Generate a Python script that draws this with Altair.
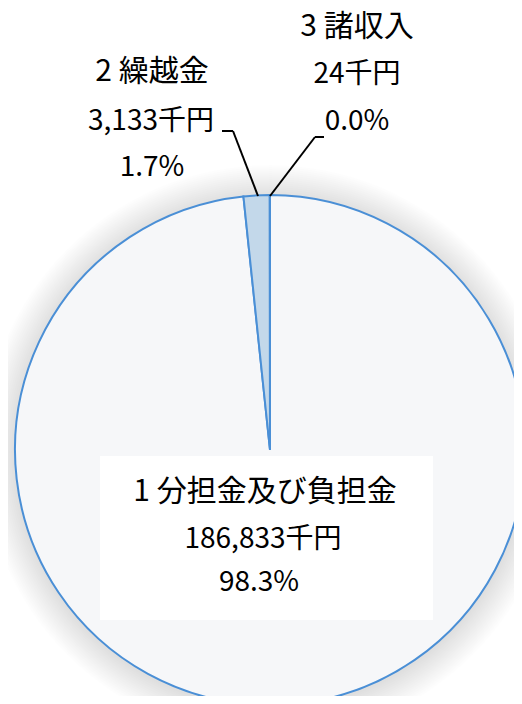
import altair as alt
import pandas as pd

# ---- data ----
categories = ["1 分担金及び負担金", "2 繰越金", "3 諸収入"]
amounts = [186833, 3133, 24]          # 千円
percents = [98.3, 1.7, 0.0]          # displayed %
order = [1, 2, 3]

FONT = "Noto Sans CJK JP"
W, H = 506, 688
CX, CY, R = 262, 442, 255
TWO_PI = 6.2832

df = pd.DataFrame({"cat": categories, "amount": amounts, "pct": percents, "ord": order})

one = pd.DataFrame({"v": [1]})

# soft outer shadow: stacked translucent discs (full circles, fixed angles)
shadow_layers = []
for rr in range(287, 255, -2):
    shadow_layers.append(
        alt.Chart(one).mark_arc(
            outerRadius=rr, theta=0, theta2=TWO_PI, color="#000000", opacity=0.009
        ).encode(x=alt.value(CX), y=alt.value(CY + 2))
    )

pie = alt.Chart(df).mark_arc(
    outerRadius=R, stroke="#4A8FD6", strokeWidth=2
).encode(
    theta=alt.Theta("amount:Q", stack=True),
    order=alt.Order("ord:Q"),
    color=alt.Color(
        "cat:N",
        scale=alt.Scale(domain=categories, range=["#F6F7F9", "#C3D8EA", "#C3D8EA"]),
        legend=None,
    ),
    x=alt.value(CX),
    y=alt.value(CY),
)

# white label box for the big slice
box = alt.Chart(one).mark_rect(color="white").encode(
    x=alt.value(92), x2=alt.value(425), y=alt.value(448), y2=alt.value(612)
)

# leader lines
def rule(x1, y1, x2, y2):
    return alt.Chart(one).mark_rule(color="black", strokeWidth=2).encode(
        x=alt.value(x1), y=alt.value(y1), x2=alt.value(x2), y2=alt.value(y2)
    )

lines = [
    rule(214, 123, 225, 123),
    rule(225, 123, 250, 188),
    rule(262, 188, 307, 129),
    rule(307, 129, 316, 129),
]

def lbl(i):
    return [categories[i], f"{amounts[i]:,}千円", f"{percents[i]:.1f}%"]

label_pos = {
    0: [(257, 484), (255, 532), (251, 575)],
    1: [(144, 64), (143, 114), (144, 160)],
    2: [(349, 19), (349, 67), (349, 114)],
}
sizes = [30, 28, 28]

texts = []
for i, pos in label_pos.items():
    for t, (x, y), fs in zip(lbl(i), pos, sizes):
        texts.append(
            alt.Chart(one).mark_text(
                text=t, font=FONT, fontSize=fs, color="black", align="center", baseline="middle"
            ).encode(x=alt.value(x), y=alt.value(y))
        )

chart = alt.layer(*shadow_layers, pie, box, *lines, *texts).properties(
    width=W, height=H, padding=0, autosize=alt.AutoSizeParams(type="none"), background="white"
).configure_view(stroke=None)

chart.save("out.html", embed_options={"renderer": "svg", "actions": False})
